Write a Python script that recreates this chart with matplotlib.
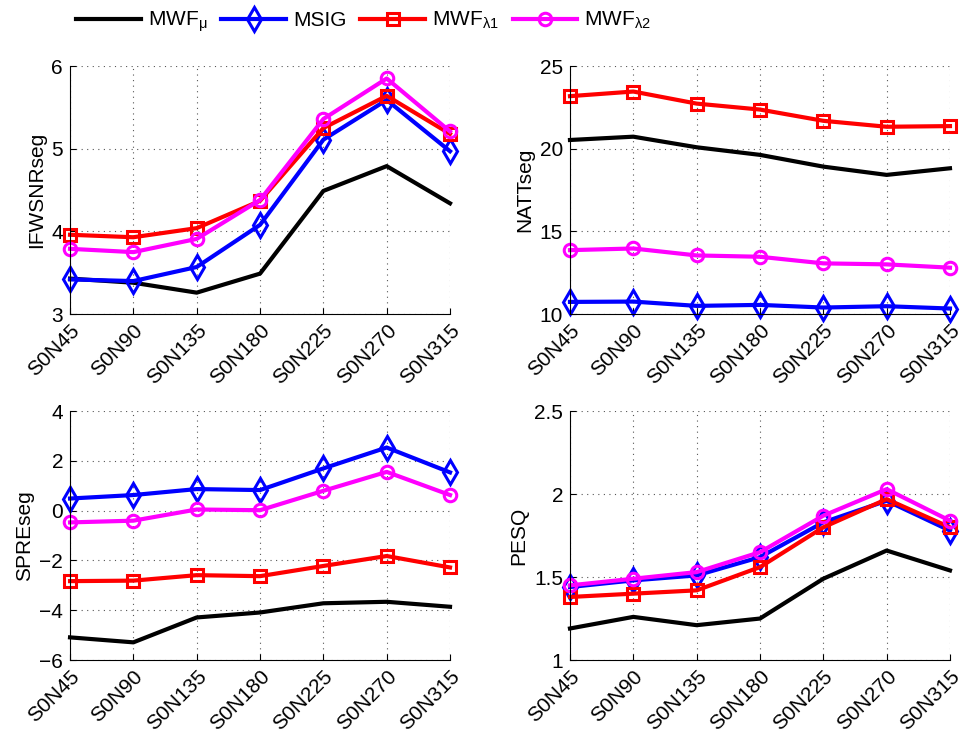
import matplotlib
matplotlib.use('Agg')
import matplotlib.pyplot as plt

plt.rcParams['font.family'] = ['Liberation Sans', 'DejaVu Sans']
plt.rcParams['mathtext.fontset'] = 'custom'
plt.rcParams['mathtext.rm'] = 'Liberation Sans'
plt.rcParams['mathtext.it'] = 'Liberation Sans:italic'

conditions = ['S0N45', 'S0N90', 'S0N135', 'S0N180', 'S0N225', 'S0N270', 'S0N315']
methods = [r'MWF$_\mathregular{\mu}$', 'MSIG', r'MWF$_\mathregular{\lambda 1}$', r'MWF$_\mathregular{\lambda 2}$']

# IFWSNRseg
ifwsnr_mwf_mu = [3.43, 3.38, 3.26, 3.49, 4.49, 4.79, 4.34]
ifwsnr_msig = [3.42, 3.40, 3.57, 4.08, 5.11, 5.59, 4.97]
ifwsnr_mwf_l1 = [3.96, 3.93, 4.04, 4.37, 5.25, 5.64, 5.18]
ifwsnr_mwf_l2 = [3.79, 3.75, 3.91, 4.38, 5.36, 5.85, 5.21]

# NATTseg
natt_mwf_mu = [20.53, 20.73, 20.09, 19.63, 18.92, 18.42, 18.82]
natt_msig = [10.74, 10.76, 10.50, 10.56, 10.40, 10.48, 10.34]
natt_mwf_l1 = [23.18, 23.46, 22.73, 22.37, 21.69, 21.33, 21.37]
natt_mwf_l2 = [13.87, 13.97, 13.55, 13.47, 13.07, 13.01, 12.81]

# SPREseg
spre_mwf_mu = [-5.09, -5.29, -4.29, -4.09, -3.72, -3.66, -3.86]
spre_msig = [0.49, 0.63, 0.87, 0.83, 1.70, 2.54, 1.54]
spre_mwf_l1 = [-2.83, -2.81, -2.59, -2.63, -2.22, -1.82, -2.28]
spre_mwf_l2 = [-0.47, -0.40, 0.05, 0.02, 0.80, 1.56, 0.63]

# PESQ
pesq_mwf_mu = [1.19, 1.26, 1.21, 1.25, 1.49, 1.66, 1.54]
pesq_msig = [1.44, 1.48, 1.51, 1.62, 1.83, 1.96, 1.78]
pesq_mwf_l1 = [1.38, 1.40, 1.42, 1.56, 1.80, 1.97, 1.80]
pesq_mwf_l2 = [1.45, 1.49, 1.53, 1.65, 1.87, 2.03, 1.84]

styles = [
    dict(color='black', marker=None, markersize=0),
    dict(color='blue', marker='d', markersize=12),
    dict(color='red', marker='s', markersize=8),
    dict(color='magenta', marker='o', markersize=9),
]

panels = [
    ('IFWSNRseg', [ifwsnr_mwf_mu, ifwsnr_msig, ifwsnr_mwf_l1, ifwsnr_mwf_l2], (3, 6), [3, 4, 5, 6]),
    ('NATTseg', [natt_mwf_mu, natt_msig, natt_mwf_l1, natt_mwf_l2], (10, 25), [10, 15, 20, 25]),
    ('SPREseg', [spre_mwf_mu, spre_msig, spre_mwf_l1, spre_mwf_l2], (-6, 4), [-6, -4, -2, 0, 2, 4]),
    ('PESQ', [pesq_mwf_mu, pesq_msig, pesq_mwf_l1, pesq_mwf_l2], (1, 2.5), [1, 1.5, 2, 2.5]),
]

rects = [
    [0.0728, 0.572, 0.395, 0.338],
    [0.5925, 0.572, 0.395, 0.338],
    [0.0728, 0.1008, 0.395, 0.339],
    [0.5925, 0.1008, 0.395, 0.339],
]

fig = plt.figure(figsize=(9.62, 7.34), dpi=100)
x = list(range(len(conditions)))
handles = []
for rect, (ylabel, series, ylim, yticks) in zip(rects, panels):
    ax = fig.add_axes(rect)
    lines = []
    for vals, st in zip(series, styles):
        ln, = ax.plot(x, vals, color=st['color'], lw=3.0, marker=st['marker'],
                      markersize=st['markersize'], markerfacecolor='none',
                      markeredgewidth=2.2, clip_on=False)
        lines.append(ln)
    handles = lines
    ax.set_xlim(0, len(conditions) - 1)
    ax.set_ylim(*ylim)
    ax.set_yticks(yticks)
    ax.set_yticklabels([('%g' % t).replace('-', '\u2212') for t in yticks])
    ax.set_xticks(x)
    ax.set_xticklabels(conditions, rotation=45, ha='right', va='top', rotation_mode='anchor')
    ax.set_ylabel(ylabel, fontsize=15)
    ax.grid(True, linestyle=(0, (1, 4)), color='#555555', lw=0.8)
    ax.set_axisbelow(True)
    for side in ('top', 'right'):
        ax.spines[side].set_visible(False)
    ax.tick_params(direction='in', labelsize=15, length=4, pad=5)

fig.legend(handles, methods, loc='upper center', bbox_to_anchor=(0.378, 1.012), ncol=4,
           frameon=False, fontsize=15, handlelength=3.1, columnspacing=0.67, handletextpad=0.34)

fig.savefig('out.png', dpi=100)
